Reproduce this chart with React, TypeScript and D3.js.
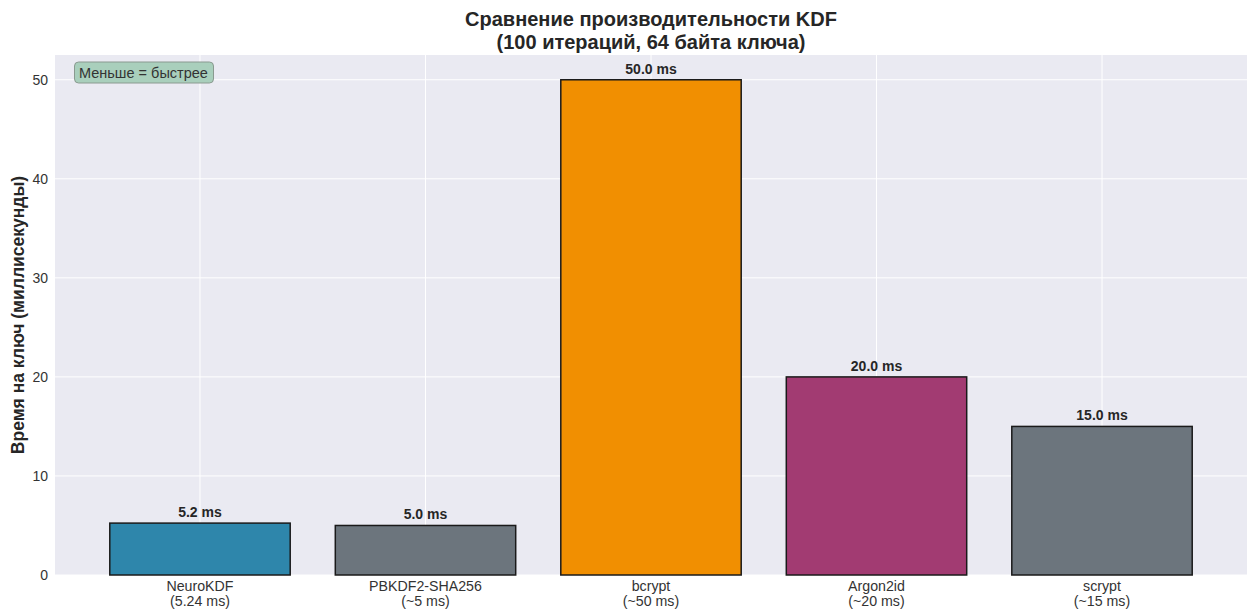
import React from "react";
import * as d3 from "d3";

const categories = ["NeuroKDF", "PBKDF2-SHA256", "bcrypt", "Argon2id", "scrypt"];
const subLabels = ["(5.24 ms)", "(~5 ms)", "(~50 ms)", "(~20 ms)", "(~15 ms)"];
const values = [5.24, 5.0, 50.0, 20.0, 15.0];
const colors = ["#2E86AB", "#6C757D", "#F18F01", "#A23B72", "#6C757D"];
const yTicks = [0, 10, 20, 30, 40, 50];

const W = 1254;
const H = 612;
const m = { left: 55, right: 7, top: 55, bottom: 37 };
const FONT = "'Liberation Sans', Arial, sans-serif";

export default function App() {
  const x = d3
    .scaleBand<string>()
    .domain(categories)
    .range([m.left, W - m.right])
    .paddingInner(0.2)
    .paddingOuter(0.243);
  const y = d3.scaleLinear().domain([0, 52.5]).range([H - m.bottom, m.top]);
  const pw = W - m.left - m.right;
  const ph = H - m.top - m.bottom;
  return (
    <svg width={W} height={H} style={{ position: "absolute", left: 0, top: 0 }} fontFamily={FONT}>
      <rect x={0} y={0} width={W} height={H} fill="#fff" />
      <rect x={m.left} y={m.top} width={pw} height={ph} fill="#EAEAF2" />
      {yTicks.map((t) => (
        <line key={"gy" + t} x1={m.left} x2={W - m.right} y1={y(t)} y2={y(t)} stroke="#fff" strokeWidth={1} />
      ))}
      {categories.map((c) => (
        <line key={"gx" + c} x1={x(c)! + x.bandwidth() / 2} x2={x(c)! + x.bandwidth() / 2} y1={m.top} y2={H - m.bottom} stroke="#fff" strokeWidth={1} />
      ))}
      {categories.map((c, i) => (
        <rect
          key={"b" + c}
          x={x(c)}
          y={y(values[i])}
          width={x.bandwidth()}
          height={y(0) - y(values[i])}
          fill={colors[i]}
          stroke="#1a1a1a"
          strokeWidth={1.5}
        />
      ))}
      {categories.map((c, i) => (
        <text
          key={"v" + c}
          x={x(c)! + x.bandwidth() / 2}
          y={y(values[i]) - 6}
          textAnchor="middle"
          fontSize={14}
          fontWeight="bold"
          fill="#262626"
        >
          {values[i].toFixed(1) + " ms"}
        </text>
      ))}
      {yTicks.map((t) => (
        <text key={"ty" + t} x={m.left - 7} y={y(t) + 5} textAnchor="end" fontSize={14} fill="#333">
          {t}
        </text>
      ))}
      {categories.map((c, i) => (
        <text key={"tx" + c} x={x(c)! + x.bandwidth() / 2} y={H - m.bottom + 16} textAnchor="middle" fontSize={14.2} fill="#333">
          <tspan x={x(c)! + x.bandwidth() / 2}>{c}</tspan>
          <tspan x={x(c)! + x.bandwidth() / 2} dy={15}>{subLabels[i]}</tspan>
        </text>
      ))}
      <text
        transform={`translate(24, ${m.top + ph / 2}) rotate(-90)`}
        textAnchor="middle"
        fontSize={17.5}
        fontWeight="bold"
        fill="#262626"
      >
        Время на ключ (миллисекунды)
      </text>
      <text x={m.left + pw / 2} y={26} textAnchor="middle" fontSize={20} fontWeight="bold" fill="#262626">
        <tspan x={m.left + pw / 2}>Сравнение производительности KDF</tspan>
        <tspan x={m.left + pw / 2} dy={23}>(100 итераций, 64 байта ключа)</tspan>
      </text>
      <rect x={74.5} y={62} width={139} height={21} rx={4} fill="#A9CFBC" stroke="#8a9a90" strokeWidth={1} />
      <text x={79} y={77.5} fontSize={14.5} fill="#333">
        Меньше = быстрее
      </text>
    </svg>
  );
}
